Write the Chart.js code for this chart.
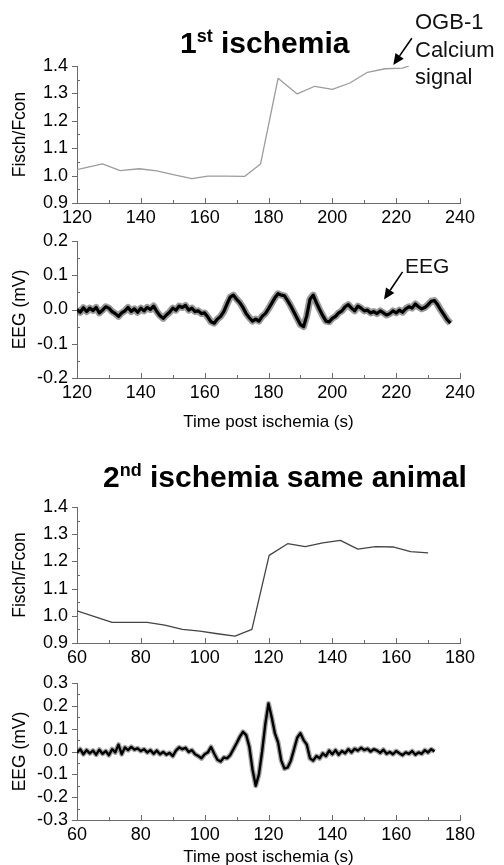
<!DOCTYPE html>
<html><head><meta charset="utf-8">
<script src="https://cdn.jsdelivr.net/npm/chart.js@4/dist/chart.umd.min.js"></script>
<style>
html,body{margin:0;padding:0;background:#fff;width:504px;height:865px;overflow:hidden;position:relative;font-family:"Liberation Sans",Arial,sans-serif;}
.c{position:absolute;left:0;width:504px;}
.t{position:absolute;font-weight:bold;font-size:30px;line-height:30px;white-space:nowrap;color:#000;}
.t sup{font-size:18px;position:relative;top:-11px;vertical-align:baseline;line-height:0}
.a{position:absolute;font-size:22px;line-height:27.5px;color:#111;white-space:nowrap}
</style></head>
<body>
<div class="c" style="top:0;height:230px"><canvas id="c1"></canvas></div>
<div class="c" style="top:200px;height:233px"><canvas id="c2"></canvas></div>
<div class="c" style="top:440px;height:230px"><canvas id="c3"></canvas></div>
<div class="c" style="top:640px;height:228px"><canvas id="c4"></canvas></div>
<div class="t" style="left:180px;top:28px">1<sup>st</sup> ischemia</div>
<div class="t" style="left:103px;top:462px">2<sup>nd</sup> ischemia same animal</div>
<div class="a" style="left:415px;top:8px">OGB-1<br>Calcium<br>signal</div>
<div class="a" style="left:405px;top:252px;font-size:21px">EEG</div>
<script>
// ---- data ----
const ca1Time  = [120, 128, 133.5, 139.5, 145, 150.5, 156, 161, 166.5, 172.5, 177.5, 183, 189, 194.5, 200, 205.5, 211, 216.5, 222, 224];
const ca1Ratio = [1.022, 1.043, 1.018, 1.025, 1.017, 1.003, 0.989, 0.998, 0.998, 0.997, 1.042, 1.355, 1.298, 1.326, 1.315, 1.338, 1.377, 1.390, 1.392, 1.400];

const eeg1Start = 120; // s, one sample per second
const eeg1Values = [
 0.000,-0.008,0.005,-0.006,0.004,-0.003,0.006,-0.010,-0.002,0.008,
 0.004,-0.006,-0.012,-0.020,-0.010,-0.004,0.006,-0.006,0.002,-0.008,
 0.004,-0.004,0.006,0.000,0.010,-0.006,-0.018,-0.026,-0.016,-0.008,
 0.004,-0.002,0.010,0.006,0.012,-0.002,0.004,-0.006,-0.004,-0.012,
 -0.010,-0.022,-0.036,-0.040,-0.028,-0.020,-0.006,0.016,0.036,0.042,
 0.030,0.020,0.006,-0.012,-0.024,-0.034,-0.028,-0.034,-0.020,-0.012,
 0.002,0.018,0.034,0.046,0.042,0.040,0.026,0.010,-0.008,-0.026,
 -0.044,-0.050,-0.018,0.030,0.042,0.020,0.000,-0.018,-0.034,-0.036,
 -0.026,-0.020,-0.010,-0.004,0.008,0.014,0.004,-0.004,0.010,0.004,
 -0.004,-0.002,-0.010,-0.006,-0.012,-0.004,-0.010,-0.016,-0.012,-0.004,
 -0.010,-0.002,-0.008,0.002,0.008,0.004,0.016,0.008,0.002,0.006,
 0.014,0.024,0.026,0.014,-0.002,-0.016,-0.030,-0.040];

const ca2Time  = [60, 65.5, 71, 76.5, 82, 87.5, 93, 98.5, 104, 109.5, 114.8, 120.2, 126, 131.5, 137, 142.5, 148, 153.5, 159, 164.5, 170];
const ca2Ratio = [1.018, 0.997, 0.976, 0.976, 0.976, 0.966, 0.950, 0.944, 0.934, 0.925, 0.950, 1.222, 1.265, 1.254, 1.268, 1.277, 1.245, 1.254, 1.253, 1.236, 1.231];

const eeg2Start = 60; // s, one sample per second
const eeg2Values = [
 -0.005,0.010,-0.012,0.006,-0.008,0.004,-0.014,0.008,-0.010,0.002,
 -0.016,0.010,-0.004,0.030,-0.012,0.018,0.006,0.020,0.008,0.014,
 0.002,0.010,-0.004,0.006,-0.010,0.004,-0.012,-0.002,-0.014,-0.006,
 -0.020,0.004,0.018,0.010,0.016,-0.002,0.006,-0.012,-0.020,-0.030,
 -0.012,-0.004,0.020,-0.010,-0.036,-0.044,-0.026,-0.030,-0.016,0.010,
 0.036,0.064,0.086,0.072,0.020,-0.080,-0.150,-0.100,0.000,0.120,
 0.210,0.150,0.080,0.040,-0.040,-0.075,-0.070,-0.040,0.010,0.060,
 0.080,0.050,0.030,-0.030,-0.040,-0.020,-0.030,-0.008,-0.020,0.004,
 -0.012,0.006,-0.014,0.002,-0.008,0.010,-0.004,0.012,0.004,0.016,
 0.006,0.012,0.000,0.010,0.004,-0.006,0.008,-0.010,-0.002,-0.012,
 0.002,-0.008,-0.016,-0.004,-0.010,0.002,-0.014,-0.004,-0.010,0.006,
 -0.004,0.010,0.000];

const xTicks1 = [120, 140, 160, 180, 200, 220, 240];
const xTicks2 = [60, 80, 100, 120, 140, 160, 180];
const yTicksCa = [0.9, 1.0, 1.1, 1.2, 1.3, 1.4];
const yTicksEeg1 = [-0.2, -0.1, 0.0, 0.1, 0.2];
const yTicksEeg2 = [-0.3, -0.2, -0.1, 0.0, 0.1, 0.2, 0.3];
const xTitle = 'Time post ischemia (s)';

// ---- style ----
Chart.defaults.font.family = '"Liberation Sans", Arial, sans-serif';
Chart.defaults.color = '#000';
const AX = '#6a6a6a';

const tickMarks = {
  id: 'tickMarks',
  afterDraw(chart) {
    const {ctx, chartArea: a, scales: {x, y}} = chart;
    ctx.save();
    ctx.strokeStyle = AX; ctx.lineWidth = 1;
    ctx.beginPath();
    const xv = x.ticks.map(t => t.value);
    const xs = xv[1] - xv[0];
    xv.forEach((v, i) => {
      const p = Math.round(x.getPixelForValue(v)) + 0.5;
      ctx.moveTo(p, a.bottom); ctx.lineTo(p, a.bottom - 5);
      if (i < xv.length - 1) {
        const m = Math.round(x.getPixelForValue(v + xs / 2)) + 0.5;
        ctx.moveTo(m, a.bottom); ctx.lineTo(m, a.bottom - 3);
      }
    });
    const yv = y.ticks.map(t => t.value);
    const ys = yv[1] - yv[0];
    yv.forEach((v, i) => {
      const p = Math.round(y.getPixelForValue(v)) + 0.5;
      ctx.moveTo(a.left, p); ctx.lineTo(a.left - 5, p);
      if (i < yv.length - 1) {
        const m = Math.round(y.getPixelForValue(v + ys / 2)) + 0.5;
        ctx.moveTo(a.left, m); ctx.lineTo(a.left + 3, m);
      }
    });
    ctx.stroke();
    const arr = chart.options.plugins.arrow;
    if (arr && arr.from) {
      const x0 = x.getPixelForValue(arr.from[0]), y0 = y.getPixelForValue(arr.from[1]);
      const x1 = x.getPixelForValue(arr.to[0]), y1 = y.getPixelForValue(arr.to[1]);
      const ang = Math.atan2(y1 - y0, x1 - x0);
      const L = 11, W = 5;
      const bx = x1 - L * Math.cos(ang), by = y1 - L * Math.sin(ang);
      ctx.strokeStyle = '#000'; ctx.fillStyle = '#000'; ctx.lineWidth = 1.6;
      ctx.beginPath(); ctx.moveTo(x0, y0); ctx.lineTo(bx, by); ctx.stroke();
      ctx.beginPath();
      ctx.moveTo(x1, y1);
      ctx.lineTo(bx + W * Math.sin(ang), by - W * Math.cos(ang));
      ctx.lineTo(bx - W * Math.sin(ang), by + W * Math.cos(ang));
      ctx.closePath(); ctx.fill();
    }
    ctx.restore();
  }
};

function makeChart(id, opt) {
  return new Chart(document.getElementById(id), {
    type: 'line',
    data: { datasets: opt.datasets },
    options: {
      responsive: true, maintainAspectRatio: false, animation: false,
      layout: { padding: { top: opt.padTop, right: 44, left: 0, bottom: 0 } },
      plugins: { legend: { display: false }, tooltip: { enabled: false }, arrow: opt.arrow || {} },
      elements: { point: { radius: 0 }, line: { tension: 0, borderJoinStyle: 'round' } },
      scales: {
        x: {
          type: 'linear', min: opt.xTicks[0], max: opt.xTicks[opt.xTicks.length - 1],
          afterBuildTicks: s => { s.ticks = opt.xTicks.map(v => ({ value: v })); },
          afterFit: s => { s.height = opt.xH; },
          grid: { display: false, drawTicks: false },
          border: { display: true, color: AX, width: 1 },
          ticks: { padding: 4, autoSkip: false, font: { size: 18 }, color: '#000', maxRotation: 0, callback: v => String(v) },
          title: opt.xTitle ? { display: true, text: opt.xTitle, font: { size: 17 }, color: '#000', padding: { top: 0, bottom: 0 } } : { display: false }
        },
        y: {
          type: 'linear', min: opt.yTicks[0], max: opt.yTicks[opt.yTicks.length - 1],
          afterBuildTicks: s => { s.ticks = opt.yTicks.map(v => ({ value: v })); },
          afterFit: s => { s.width = 77; },
          grid: { display: false, drawTicks: false },
          border: { display: true, color: AX, width: 1 },
          ticks: { padding: 9, autoSkip: false, font: { size: 18 }, color: '#000', callback: v => Number(v).toFixed(1) },
          title: { display: true, text: opt.yTitle, font: { size: 17.5 }, color: '#000', padding: { top: 10, bottom: 0 } }
        }
      }
    },
    plugins: [tickMarks]
  });
}

const pts = (xs, ys) => ys.map((v, i) => ({ x: xs[i], y: v }));
const eegPts = (start, vals) => vals.map((v, i) => ({ x: start + i, y: v }));

makeChart('c1', {
  padTop: 66, xH: 27, xTicks: xTicks1, yTicks: yTicksCa, yTitle: 'Fisch/Fcon',
  arrow: { from: [224.9, 1.501], to: [219.1, 1.404] },
  datasets: [{ data: pts(ca1Time, ca1Ratio), borderColor: '#9c9c9c', borderWidth: 1.3 }]
});
makeChart('c2', {
  padTop: 41, xH: 55, xTicks: xTicks1, yTicks: yTicksEeg1, yTitle: 'EEG (mV)', xTitle: xTitle,
  arrow: { from: [222.0, 0.110], to: [216.2, 0.0295] },
  datasets: [
    { data: eegPts(eeg1Start, eeg1Values), borderColor: '#000', borderWidth: 3.2 },
    { data: eegPts(eeg1Start, eeg1Values), borderColor: 'rgba(30,30,30,0.45)', borderWidth: 7 }
  ]
});
makeChart('c3', {
  padTop: 67, xH: 27, xTicks: xTicks2, yTicks: yTicksCa, yTitle: 'Fisch/Fcon',
  datasets: [{ data: pts(ca2Time, ca2Ratio), borderColor: '#444', borderWidth: 1.3 }]
});
makeChart('c4', {
  padTop: 43, xH: 48, xTicks: xTicks2, yTicks: yTicksEeg2, yTitle: 'EEG (mV)', xTitle: xTitle,
  datasets: [
    { data: eegPts(eeg2Start, eeg2Values), borderColor: '#000', borderWidth: 2.4 },
    { data: eegPts(eeg2Start, eeg2Values), borderColor: 'rgba(30,30,30,0.4)', borderWidth: 5 }
  ]
});
</script>
</body></html>
